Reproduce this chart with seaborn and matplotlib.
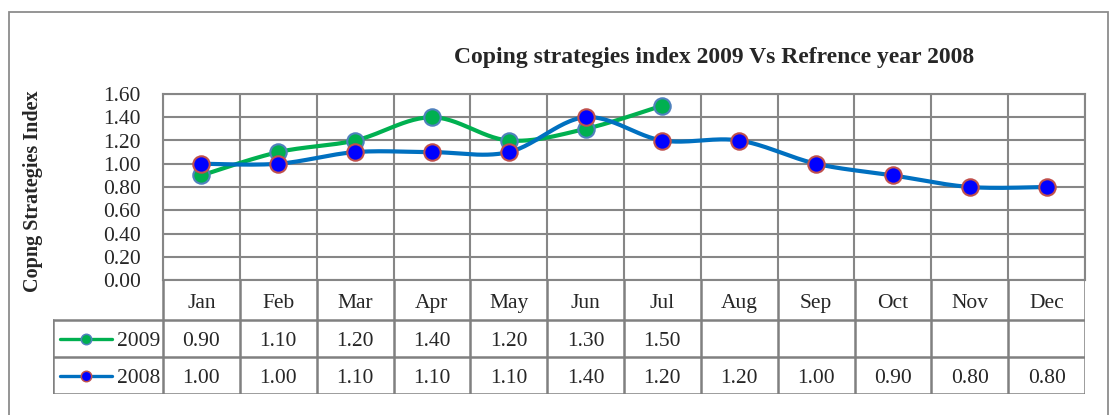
import numpy as np
import pandas as pd
import seaborn as sns
import matplotlib.pyplot as plt
from matplotlib.lines import Line2D
from matplotlib.patches import Rectangle

months = ['Jan', 'Feb', 'Mar', 'Apr', 'May', 'Jun', 'Jul', 'Aug', 'Sep', 'Oct', 'Nov', 'Dec']
csi_2009 = [0.90, 1.10, 1.20, 1.40, 1.20, 1.30, 1.50]
csi_2008 = [1.00, 1.00, 1.10, 1.10, 1.10, 1.40, 1.20, 1.20, 1.00, 0.90, 0.80, 0.80]

W, H = 1116, 415
GRID = '#868686'
SERIF = ['Liberation Serif', 'DejaVu Serif']
FS = 15.5


def smooth(y, n=30):
    # Excel style smoothed line (Catmull-Rom through the points)
    y = np.asarray(y, dtype=float)
    x = np.arange(len(y), dtype=float)
    px = np.concatenate([[x[0]], x, [x[-1]]])
    py = np.concatenate([[y[0]], y, [y[-1]]])
    xs, ys = [], []
    for i in range(1, len(px) - 2):
        t = np.linspace(0, 1, n)
        for p, out in ((px, xs), (py, ys)):
            p0, p1, p2, p3 = p[i - 1], p[i], p[i + 1], p[i + 2]
            c1 = p1 + (p2 - p0) / 6
            c2 = p2 - (p3 - p1) / 6
            out.extend((1 - t) ** 3 * p1 + 3 * (1 - t) ** 2 * t * c1
                       + 3 * (1 - t) * t ** 2 * c2 + t ** 3 * p2)
    return np.array(xs), np.array(ys)


sns.set_style('white')
plt.rcParams['font.family'] = SERIF

fig = plt.figure(figsize=(W / 100, H / 100), dpi=100)

# chart frame
fig.patches.append(Rectangle((9 / W, -0.1), (1108 - 9) / W, (H - 12) / H + 0.1,
                             transform=fig.transFigure, fill=False,
                             edgecolor='#8c8c8c', lw=1.3))

left, right, top, bottom = 163, 1085, 94, 280
ax = fig.add_axes([left / W, (H - bottom) / H, (right - left) / W, (bottom - top) / H])

series = [
    ('2009', csi_2009, '#00B050', '#00B050', '#4F81BD'),
    ('2008', csi_2008, '#0070C0', '#0000FF', '#C0504D'),
]
for name, vals, lc, fc, ec in series:
    sx, sy = smooth(vals)
    sns.lineplot(x=sx, y=sy, ax=ax, color=lc, lw=3.0, sort=False, zorder=3)
    pts = pd.DataFrame({'m': np.arange(len(vals)), 'v': vals})
    sns.scatterplot(data=pts, x='m', y='v', ax=ax, s=140, color=fc,
                    edgecolor=ec, linewidth=1.5, zorder=4)

ax.set_xlim(-0.5, 11.5)
ax.set_ylim(0, 1.6)
ax.set_yticks(np.arange(0, 1.61, 0.2))
ax.set_yticklabels([f'{v:.2f}' for v in np.arange(0, 1.61, 0.2)], fontsize=FS)
ax.set_xticks(np.arange(-0.5, 12, 1), minor=False)
ax.set_xticklabels([])
ax.grid(True, color=GRID, lw=1.5)
ax.tick_params(axis='y', length=4, color=GRID, width=1.5, pad=12)
ax.tick_params(axis='x', length=0)
for s in ax.spines.values():
    s.set_color(GRID)
    s.set_linewidth(1.5)
ax.set_xlabel('')
ax.set_ylabel('')

fig.text(714 / W, 1 - 58 / H, 'Coping strategies index 2009 Vs Refrence year 2008',
         ha='center', va='center', fontsize=17, fontweight='bold')
fig.text(33 / W, 1 - 191 / H, 'Copng Strategies Index', rotation=90,
         ha='center', va='center', fontsize=14.5, fontweight='bold')

# data table under the plot
tl, tr, ttop, tbot = 53, 1085, 280, 394
tab = fig.add_axes([tl / W, (H - tbot) / H, (tr - tl) / W, (tbot - ttop) / H])
colw = (right - left) / 12
legw = (left - tl) / colw
tab.set_xlim(-0.5 - legw, 11.5)
tab.set_ylim(tbot - ttop, 0)
tab.axis('off')

rows = [0, 40, 77, 114]
tc = '#808080'
for i in range(13):
    tab.plot([i - 0.5, i - 0.5], [0, 114], color=tc, lw=1.8)
tab.plot([-0.5 - legw, -0.5 - legw], [40, 114], color=tc, lw=1.8)
for r in rows[1:]:
    tab.plot([-0.5 - legw, 11.5], [r, r], color=tc, lw=1.8)

for i, m in enumerate(months):
    tab.text(i, 21, m, ha='center', va='center_baseline', fontsize=FS)
for (name, vals, lc, fc, ec), yc in zip(series, [58.5, 95.5]):
    for i, v in enumerate(vals):
        tab.text(i, yc, f'{v:.2f}', ha='center', va='center_baseline', fontsize=FS)
    x0 = -0.5 - legw + 7 / colw
    x1 = x0 + 52 / colw
    tab.add_line(Line2D([x0, x1], [yc, yc], color=lc, lw=2.4))
    tab.add_line(Line2D([(x0 + x1) / 2], [yc], marker='o', ms=7.5, color=fc,
                        markeredgecolor=ec, markeredgewidth=1.1))
    tab.text(-0.5 - 3 / colw, yc, name, ha='right', va='center_baseline', fontsize=FS)

fig.savefig('out.png', dpi=100)
